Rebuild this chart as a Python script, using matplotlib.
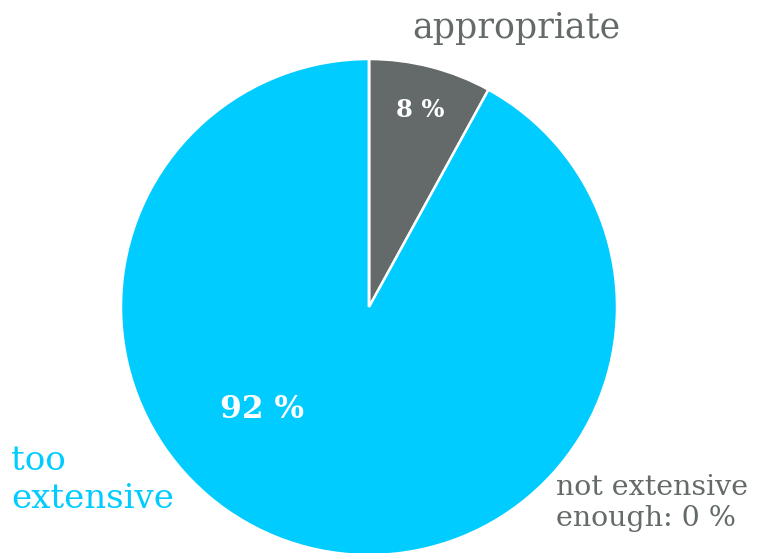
import matplotlib.pyplot as plt

# survey answers
categories = ['appropriate', 'too\nextensive', 'not extensive\nenough']
shares = [8, 92, 0]
colors = ['#646a6a', '#00ccff', '#646a6a']

W, H = 757, 553
fig = plt.figure(figsize=(W / 100, H / 100), dpi=100)

# pie centre and radius in pixels
cx, cy, r = 369, 307, 248
ax = fig.add_axes([(cx - r) / W, (H - cy - r) / H, 2 * r / W, 2 * r / H])
ax.pie(shares, colors=colors, startangle=90, counterclock=False,
       radius=1, wedgeprops=dict(edgecolor='white', linewidth=1.8))
ax.set_xlim(-1, 1)
ax.set_ylim(-1, 1)
ax.set_aspect('equal')
ax.axis('off')

font = 'DejaVu Serif'

def px(x, y):
    return x / W, 1 - y / H

# category labels
fig.text(*px(516, 28), categories[0], ha='center', va='center',
         fontsize=25, color='#646a6a', family=font)
fig.text(*px(11, 480), categories[1], ha='left', va='center',
         fontsize=24.5, color='#00ccff', family=font, linespacing=1.2)
fig.text(*px(556, 503), categories[2] + ': %d %%' % shares[2], ha='left',
         va='center', fontsize=20.5, color='#646a6a', family=font,
         linespacing=1.15)

# percentage labels inside the slices
fig.text(*px(420, 110), '%d %%' % shares[0], ha='center', va='center',
         fontsize=17.5, color='white', weight='bold', family=font)
fig.text(*px(262, 410), '%d %%' % shares[1], ha='center', va='center',
         fontsize=22.5, color='white', weight='bold', family=font)

fig.savefig('out.png', dpi=100)
